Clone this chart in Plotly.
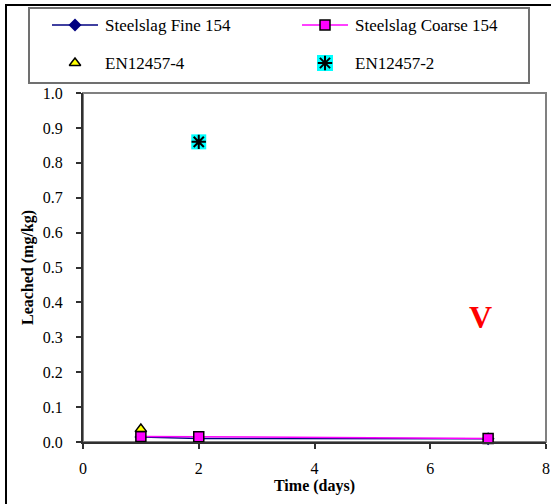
import plotly.graph_objects as go

# ---------------- data ----------------
days = [1, 2, 7]
fine_154 = [0.014, 0.010, 0.009]
coarse_154 = [0.016, 0.015, 0.010]
en4_x = [1]
en4_y = [0.037]
en2_x = [2]
en2_y = [0.86]

series_names = ["Steelslag Fine 154", "Steelslag Coarse 154", "EN12457-4", "EN12457-2"]
x_ticks = [0, 2, 4, 6, 8]
y_ticks = [0.0, 0.1, 0.2, 0.3, 0.4, 0.5, 0.6, 0.7, 0.8, 0.9, 1.0]

# ---------------- layout constants (pixels) ----------------
W, H = 551, 504
PL, PR, PT, PB = 83, 546, 93, 442  # plot area
FONT = "'Liberation Serif', 'Times New Roman', serif"
NAVY = "#000080"
MAG = "#FF00FF"

fig = go.Figure()

# main data traces
fig.add_trace(go.Scatter(x=days, y=fine_154, mode="lines+markers", name=series_names[0],
                         line=dict(color=NAVY, width=1.5),
                         marker=dict(symbol="diamond", size=10, color=NAVY),
                         showlegend=False, cliponaxis=False))
fig.add_trace(go.Scatter(x=days, y=coarse_154, mode="lines+markers", name=series_names[1],
                         line=dict(color=MAG, width=1.5),
                         marker=dict(symbol="square", size=10, color=MAG,
                                     line=dict(color="black", width=1.5)),
                         showlegend=False, cliponaxis=False))
fig.add_trace(go.Scatter(x=en4_x, y=en4_y, mode="markers", name=series_names[2],
                         marker=dict(symbol="triangle-up", size=10, color="#FFFF00",
                                     line=dict(color="black", width=1.5)),
                         showlegend=False, cliponaxis=False))
fig.add_trace(go.Scatter(x=en2_x, y=en2_y, mode="markers", name=series_names[3],
                         marker=dict(symbol="square", size=15, color="#00FFFF"),
                         showlegend=False, cliponaxis=False))
fig.add_trace(go.Scatter(x=en2_x, y=en2_y, mode="markers", name=series_names[3],
                         marker=dict(symbol="asterisk-open", size=12, color="black",
                                     line=dict(color="black", width=2)),
                         showlegend=False, cliponaxis=False))

# ---------------- manual legend on a full-figure pixel axis ----------------
row_y = [25, 63]
col_sym = [75, 325]
col_txt = [103, 353]
half = 23

fig.add_trace(go.Scatter(x=[col_sym[0] - half, col_sym[0] + half], y=[row_y[0], row_y[0]],
                         mode="lines", line=dict(color=NAVY, width=1.5),
                         xaxis="x2", yaxis="y2", showlegend=False, hoverinfo="skip"))
fig.add_trace(go.Scatter(x=[col_sym[0]], y=[row_y[0]], mode="markers",
                         marker=dict(symbol="diamond", size=10, color=NAVY),
                         xaxis="x2", yaxis="y2", showlegend=False, hoverinfo="skip"))
fig.add_trace(go.Scatter(x=[col_sym[1] - half, col_sym[1] + half], y=[row_y[0], row_y[0]],
                         mode="lines", line=dict(color=MAG, width=1.5),
                         xaxis="x2", yaxis="y2", showlegend=False, hoverinfo="skip"))
fig.add_trace(go.Scatter(x=[col_sym[1]], y=[row_y[0]], mode="markers",
                         marker=dict(symbol="square", size=10, color=MAG,
                                     line=dict(color="black", width=1.5)),
                         xaxis="x2", yaxis="y2", showlegend=False, hoverinfo="skip"))
fig.add_trace(go.Scatter(x=[col_sym[0]], y=[row_y[1]], mode="markers",
                         marker=dict(symbol="triangle-up", size=10, color="#FFFF00",
                                     line=dict(color="black", width=1.5)),
                         xaxis="x2", yaxis="y2", showlegend=False, hoverinfo="skip"))
fig.add_trace(go.Scatter(x=[col_sym[1]], y=[row_y[1]], mode="markers",
                         marker=dict(symbol="square", size=16, color="#00FFFF"),
                         xaxis="x2", yaxis="y2", showlegend=False, hoverinfo="skip"))
fig.add_trace(go.Scatter(x=[col_sym[1]], y=[row_y[1]], mode="markers",
                         marker=dict(symbol="asterisk-open", size=12, color="black",
                                     line=dict(color="black", width=2)),
                         xaxis="x2", yaxis="y2", showlegend=False, hoverinfo="skip"))

annotations = []
for i, name in enumerate(series_names):
    r, c = divmod(i, 2)
    annotations.append(dict(text=name, x=col_txt[c] / W, y=1 - row_y[r] / H,
                            xref="paper", yref="paper", xanchor="left", yanchor="middle",
                            showarrow=False, font=dict(family=FONT, size=17, color="black")))

# "V" label
annotations.append(dict(text="<b>V</b>", x=6.86, y=0.358, xref="x", yref="y",
                        showarrow=False, font=dict(family=FONT, size=32, color="#FF0000")))

shapes = [
    # outer chart frame
    dict(type="rect", xref="paper", yref="paper", x0=6 / W, x1=1.05, y0=-0.05, y1=1 - 5 / H,
         line=dict(color="black", width=2), layer="below"),
    # legend box
    dict(type="rect", xref="paper", yref="paper", x0=29 / W, x1=529 / W,
         y0=1 - 83 / H, y1=1 - 8 / H, line=dict(color="#707070", width=2), layer="below"),
    # plot area border (top/right gray)
    dict(type="rect", xref="x domain", yref="y domain", x0=0, x1=1, y0=0, y1=1,
         line=dict(color="#808080", width=2), layer="below"),
]

axis_font = dict(family=FONT, size=16, color="black")
fig.update_layout(
    width=W, height=H,
    margin=dict(l=0, r=0, t=0, b=0, autoexpand=False),
    paper_bgcolor="white",
    plot_bgcolor="rgba(0,0,0,0)",
    font=dict(family=FONT, color="black"),
    showlegend=False,
    annotations=annotations,
    shapes=shapes,
    xaxis=dict(domain=[PL / W, PR / W], range=[0, 8], tickvals=x_ticks,
               ticks="outside", ticklen=5, tickwidth=1.5, tickcolor="#303030",
               showline=True, linecolor="#303030", linewidth=2, showgrid=False, zeroline=False,
               tickfont=axis_font, ticklabelstandoff=6, automargin=False,
               title=dict(text="<b>Time (days)</b>", font=dict(family=FONT, size=16, color="black"),
                          standoff=3),
               anchor="y"),
    yaxis=dict(domain=[1 - PB / H, 1 - PT / H], range=[0, 1.0], tickvals=y_ticks,
               tickformat=".1f", ticks="outside", ticklen=5, tickwidth=1.5, tickcolor="#303030",
               showline=True, linecolor="#303030", linewidth=2, showgrid=False, zeroline=False,
               tickfont=axis_font, ticklabelstandoff=10, automargin=False,
               title=dict(text="<b>Leached (mg/kg)</b>", font=dict(family=FONT, size=16, color="black"),
                          standoff=5),
               anchor="x"),
    xaxis2=dict(domain=[0, 1], range=[0, W], visible=False, anchor="y2", fixedrange=True,
                automargin=False),
    yaxis2=dict(domain=[0, 1], range=[H, 0], visible=False, anchor="x2", fixedrange=True,
                automargin=False),
)

fig.write_html("out.html")
